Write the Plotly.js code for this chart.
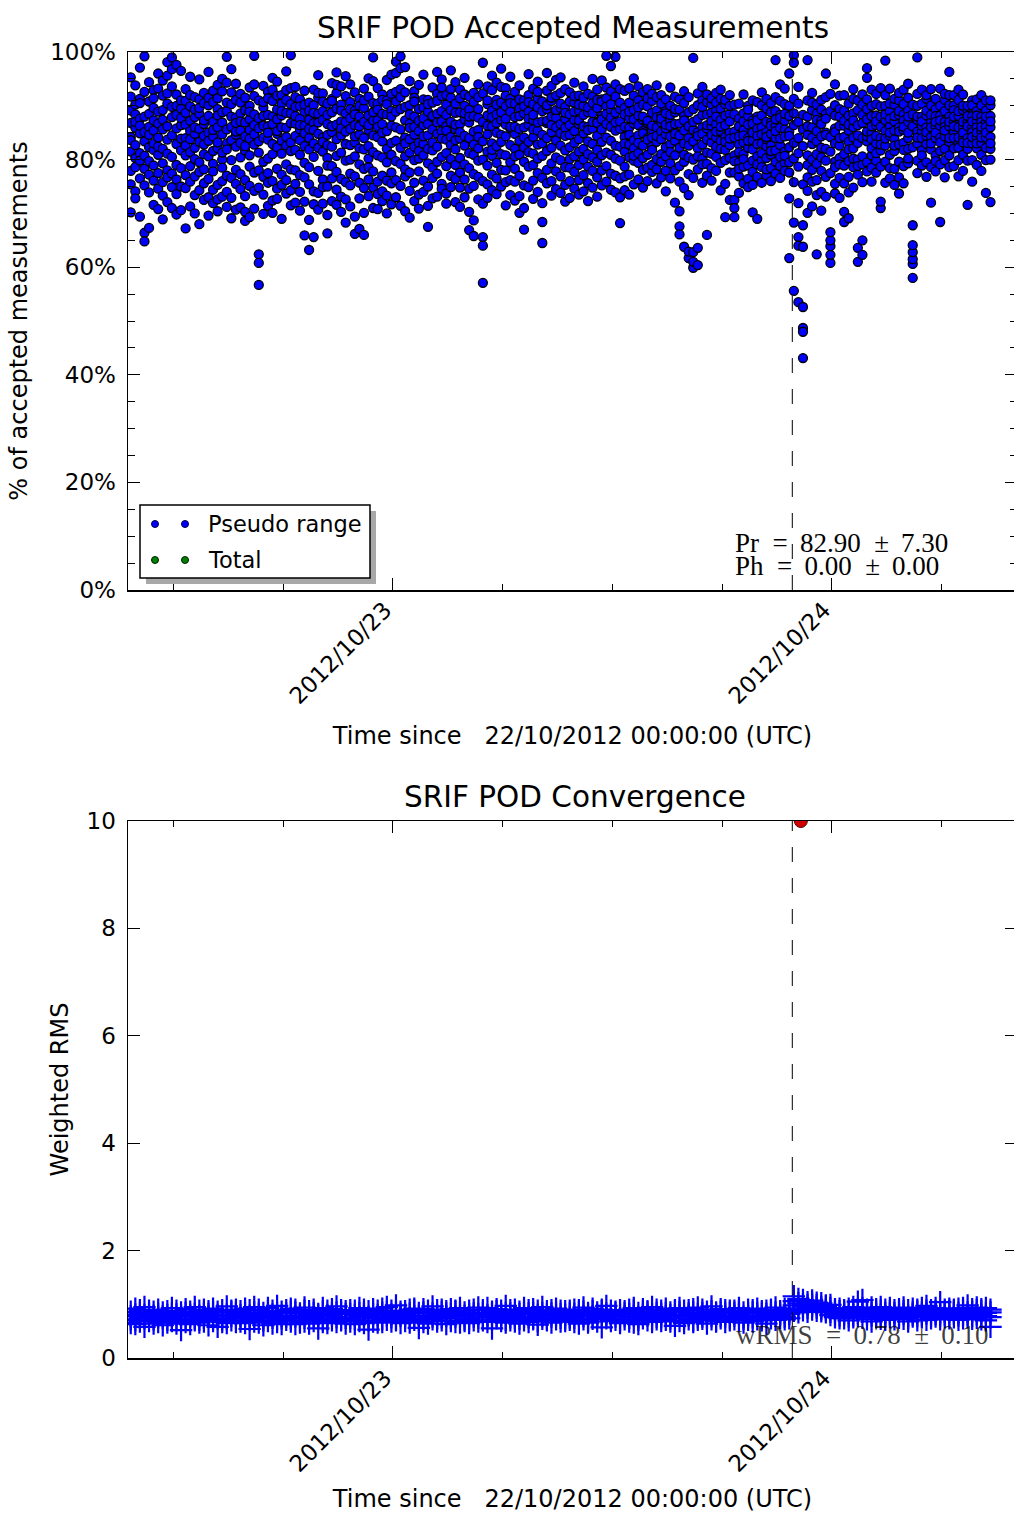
<!DOCTYPE html>
<html>
<head>
<meta charset="utf-8">
<script src="https://cdn.plot.ly/plotly-3.0.1.min.js"></script>
<style>html,body{margin:0;padding:0;overflow:hidden;background:#fff}</style>
</head>
<body>
<div id="chart" style="width:1020px;height:1524px"></div>
<script>
// ---------- DATA ----------
// epochs: every 15 min starting 2012-10-22 09:40 UTC, 12 epochs per 3-hour block
const startEpoch = '2012-10-22T09:40:00Z';
const epochMinutes = 15;
const epochsPerBlock = 12;

// % of accepted pseudo-range measurements, one row per epoch (several satellites)
const pr_b00 = [[95.3,89.1,91.7,84.2,86.8,81.5,77.9,75.4,70.2,83.6],[93.8,88.4,90.2,82.7,85.9,80.3,78.6,74.1,72.8,87.0],[97.1,91.3,87.6,84.9,81.2,86.3,76.5,79.8,69.4,90.5],[99.2,92.6,88.0,83.4,80.7,85.1,75.2,66.4,64.8,78.3],[94.4,90.8,86.1,82.3,84.6,79.7,73.9,77.2,67.3,88.5],[92.9,87.3,89.6,85.4,81.8,83.0,76.1,78.9,71.6,91.4],[96.0,88.9,93.2,80.9,84.1,86.7,74.6,77.5,70.8,82.4],[94.7,91.9,87.4,82.0,85.6,79.3,75.8,73.3,68.9,89.2],[98.1,90.4,92.3,86.2,83.7,81.1,78.0,76.7,72.1,95.6],[99.0,93.6,89.8,84.5,87.9,80.5,77.4,74.9,71.0,96.8],[97.6,92.1,88.3,85.8,82.9,79.0,76.3,73.6,69.8,90.0],[96.5,89.5,91.0,83.9,86.4,81.7,78.4,75.0,70.6,87.7]];
const pr_b01 = [[93.1,88.7,90.9,84.0,82.6,86.5,77.1,74.7,67.2,80.8],[95.4,89.9,87.2,85.3,81.4,83.8,78.8,75.9,71.3,92.0],[91.6,87.9,89.3,82.2,84.8,80.1,76.9,73.4,70.0,86.0],[94.9,91.2,88.5,83.3,85.7,79.5,74.3,77.7,68.0,89.6],[92.4,90.5,86.6,84.4,81.0,82.8,75.6,78.2,72.5,87.3],[96.3,88.1,90.1,85.0,83.5,80.6,76.4,73.0,69.6,91.5],[90.7,87.0,92.8,81.6,84.3,79.2,77.8,74.4,71.9,85.5],[93.9,89.4,91.4,86.0,82.1,83.2,75.3,72.6,70.4,88.2],[95.0,92.7,88.8,84.7,86.9,80.0,78.5,76.0,73.1,81.3],[99.1,94.3,89.0,85.6,83.0,81.9,77.0,74.0,71.2,90.6],[96.8,90.3,92.5,83.6,86.1,79.9,76.6,72.9,69.1,88.0],[94.1,91.1,87.8,84.6,82.4,85.2,75.5,78.1,70.7,86.8]];
const pr_b02 = [[92.2,88.6,90.6,83.1,85.4,80.4,77.3,74.5,71.1,87.1],[91.5,86.9,89.2,84.3,81.7,82.5,76.2,73.2,68.6,70.3],[93.4,90.0,87.5,85.5,80.8,83.9,78.7,75.1,69.3,88.9],[99.3,94.0,88.4,86.4,82.8,84.7,77.6,74.2,70.9,91.8],[91.0,87.7,85.8,81.3,83.4,78.0,74.8,62.4,60.8,56.7],[93.7,89.7,88.1,84.1,86.3,79.6,76.8,73.5,69.9,90.7],[92.6,91.4,86.2,83.7,85.0,80.2,77.5,75.7,71.4,88.3],[95.2,90.9,88.0,82.9,86.6,81.0,76.0,72.4,70.1,93.0],[94.5,89.3,91.9,84.8,82.3,85.3,78.3,74.6,72.7,87.5],[92.0,88.2,90.4,83.5,81.1,86.0,77.2,75.3,69.0,89.0],[96.4,92.9,88.7,85.9,82.6,84.2,79.1,76.2,73.7,91.1],[99.4,93.3,90.3,86.8,83.2,81.6,78.2,74.3,71.5,88.6]];
const pr_b03 = [[93.5,89.8,91.6,84.4,86.7,81.8,78.0,75.5,72.0,88.1],[91.2,87.6,89.9,83.6,80.9,85.6,77.1,74.0,70.5,86.4],[92.8,88.9,86.3,82.5,84.9,79.4,76.7,72.2,65.9,90.2],[90.6,87.4,89.1,81.9,84.0,78.6,75.4,68.8,63.2,85.7],[93.0,90.1,86.8,83.0,85.5,80.5,74.1,71.7,65.6,88.7],[95.7,91.5,88.5,84.8,82.2,86.9,77.9,73.8,70.7,92.4],[92.3,89.0,90.8,84.1,81.5,83.3,76.3,74.9,71.8,87.4],[90.4,86.6,88.3,82.7,80.3,84.6,75.0,69.7,66.3,78.9],[94.2,91.3,88.8,85.1,82.4,86.2,78.8,76.5,72.3,90.9],[96.2,92.4,89.5,86.5,83.8,80.7,77.7,74.4,71.6,93.9],[93.6,90.2,87.1,84.5,81.3,85.8,76.4,73.1,70.3,89.1],[95.5,91.8,88.6,85.2,82.9,79.8,68.3,75.8,72.6,87.0]];
const pr_b04 = [[94.0,90.7,87.7,85.7,82.7,80.0,77.4,75.2,71.3,89.4],[92.5,89.1,86.4,83.2,80.6,84.3,76.9,69.4,66.2,88.4],[91.3,88.0,90.0,82.1,84.7,79.1,75.7,72.8,67.1,86.2],[93.2,89.6,87.0,84.0,81.9,78.3,74.7,70.1,66.0,91.0],[95.1,91.7,88.2,85.5,82.5,86.4,78.6,76.3,73.2,80.2],[99.0,94.6,90.5,87.3,84.5,81.4,77.8,74.8,71.0,88.8],[93.3,90.4,87.3,84.2,86.1,80.8,75.9,73.6,70.8,89.3],[92.1,88.5,91.1,83.4,80.4,85.0,77.0,74.1,72.3,86.6],[94.8,91.0,88.4,85.3,82.0,79.5,76.1,73.3,70.0,90.3],[95.8,92.2,89.1,86.3,83.1,80.9,77.6,75.6,71.7,88.0],[98.2,96.1,92.6,88.9,86.0,83.5,79.7,76.2,73.0,90.8],[99.2,97.0,93.1,89.4,85.6,82.2,79.2,75.1,71.4,91.6]];
const pr_b05 = [[97.2,92.5,89.8,84.1,87.3,80.6,76.9,78.2,70.4,83.0],[94.6,90.1,86.7,85.9,81.3,83.8,74.2,77.6,69.2,88.4],[92.7,91.5,88.0,82.4,84.6,79.9,75.7,72.3,86.1,90.8],[93.9,87.2,89.4,83.1,80.2,85.3,77.8,73.5,70.9,81.6],[95.8,89.7,91.2,86.4,82.9,80.8,76.1,74.0,87.7,84.3],[91.1,88.9,84.5,82.0,79.3,86.6,75.0,71.4,67.5,90.3],[93.4,90.6,87.9,85.6,81.7,78.5,76.6,72.8,83.2,88.1],[96.3,92.2,88.5,84.8,82.4,79.6,77.4,73.1,86.9,90.9],[94.9,91.8,87.1,85.3,80.5,83.9,75.5,74.6,89.0,93.4],[92.0,88.3,86.2,83.7,78.8,81.2,73.7,71.8,85.4,90.2],[96.6,93.1,89.2,87.0,84.2,80.1,77.0,74.9,82.7,91.5],[94.4,90.4,88.7,85.7,81.9,79.0,76.4,72.1,86.5,83.6]];
const pr_b06 = [[93.0,88.8,91.4,83.9,86.6,80.3,77.6,74.8,71.2,85.1],[95.2,90.0,87.5,82.6,84.4,79.1,76.3,73.0,88.6,92.1],[91.7,89.3,86.9,84.0,81.2,78.4,74.6,70.3,66.9,88.0],[92.4,88.1,90.7,82.8,85.2,77.3,75.1,68.7,65.8,80.9],[94.0,91.6,87.8,85.5,82.1,79.8,76.8,72.6,89.4,84.2],[98.0,92.3,87.0,83.4,80.0,76.0,71.8,65.6,64.0,57.1],[93.6,90.3,88.2,84.7,81.5,78.9,75.4,72.9,86.3,91.0],[95.6,92.9,89.1,86.2,83.0,80.7,77.2,74.3,87.9,81.8],[94.3,91.1,88.4,85.0,82.5,79.4,76.5,73.6,90.2,86.8],[96.9,93.5,90.6,87.4,84.6,81.0,78.1,75.0,88.8,83.3],[93.3,89.9,86.5,84.3,80.8,78.0,75.8,71.5,87.6,91.9],[95.4,91.3,88.9,85.8,82.7,79.5,76.2,73.4,86.1,90.5]];
const pr_b07 = [[92.6,87.9,90.4,84.8,82.0,86.1,78.3,75.9,72.4,80.6],[93.8,89.5,88.1,83.5,85.7,80.9,77.0,73.2,70.1,91.2],[91.0,88.6,86.0,82.3,84.1,79.6,75.2,71.0,67.0,89.9],[95.9,92.0,88.9,86.5,83.3,81.4,78.7,74.9,87.6,90.7],[93.2,90.3,87.3,84.2,81.1,79.0,76.1,72.7,85.6,88.3],[94.5,91.4,89.7,85.4,82.8,80.2,77.5,74.0,86.9,92.6],[90.8,87.1,89.0,83.0,80.7,84.6,76.6,71.9,68.4,64.5],[96.1,92.8,89.4,86.8,84.0,81.6,78.1,75.6,87.2,90.1],[93.7,90.9,88.0,85.1,82.2,79.3,76.0,73.3,86.4,91.5],[94.8,91.9,88.8,86.0,83.6,80.4,77.8,74.5,87.8,89.2],[95.3,92.4,89.6,84.9,82.6,79.9,76.9,73.8,86.6,90.4],[93.1,89.8,87.6,85.9,81.7,78.6,75.3,72.2,84.4,88.7]];
const pr_b08 = [[92.5,88.4,90.8,84.6,82.3,86.4,78.5,76.0,72.9,80.1],[94.3,90.6,87.4,85.3,83.1,80.6,77.7,74.6,88.9,91.8],[91.9,89.1,86.6,83.8,81.5,79.0,76.2,73.5,87.3,90.2],[93.6,90.0,88.3,84.9,82.0,80.0,77.1,74.1,86.2,91.5],[92.2,88.8,86.1,83.4,81.0,78.7,75.6,72.3,85.5,89.7],[95.0,91.7,88.6,85.8,82.9,80.4,77.9,74.8,87.0,90.5],[93.0,89.6,87.0,84.4,81.8,79.6,76.7,73.1,86.8,91.1],[94.7,91.2,88.1,85.6,83.3,80.8,78.0,75.2,87.5,90.8],[99.3,93.4,89.9,86.6,84.1,81.3,78.8,75.9,88.5,91.4],[97.4,92.7,89.2,86.1,83.5,80.9,77.4,74.4,87.8,90.3],[94.0,99.1,88.7,85.4,82.6,80.2,77.0,73.9,86.9,91.7],[68.2,93.1,89.4,85.7,82.4,79.8,76.5,73.0,87.1,90.6]];
const pr_b09 = [[89.6,84.2,92.8,78.7,86.1,81.5,74.3,88.4,83.0,76.9],[93.3,87.7,80.4,85.9,77.2,90.6,82.8,73.5,88.9,84.6],[95.1,83.6,89.2,86.7,79.8,91.9,75.4,82.1,87.5,80.7],[86.4,91.0,81.2,88.2,84.5,76.3,89.7,79.4,93.6,83.1],[90.2,85.3,78.1,92.5,82.6,87.4,74.8,88.0,80.3,84.9],[84.0,89.9,86.8,80.9,93.1,78.5,83.7,91.4,76.0,87.2],[88.7,82.4,90.9,85.6,77.7,84.1,92.2,79.0,86.3,81.8],[91.6,86.0,83.3,89.1,80.1,75.6,87.9,84.4,93.8,78.2],[85.2,92.0,88.1,81.0,86.9,83.8,76.7,90.4,79.6,87.6],[89.0,84.7,80.6,91.2,85.8,77.9,88.6,82.3,74.1,86.5],[87.1,93.4,82.9,86.2,79.3,90.0,84.3,76.5,88.3,81.4],[83.5,88.8,91.7,85.1,78.0,86.6,80.8,89.4,72.0,84.8]];
const pr_b10 = [[70.4,67.6,66.1,84.5,89.3,78.8,86.7,91.2,82.2,75.9],[63.8,88.1,83.0,79.6,90.5,85.4,74.7,87.3,80.9,92.7],[61.7,62.9,86.2,80.4,91.6,84.0,77.3,88.8,82.6,73.4],[98.9,59.9,61.0,62.8,85.5,80.0,89.4,83.4,76.6,87.0],[63.6,60.4,87.5,82.1,90.1,78.2,85.1,92.3,80.6,84.4],[86.0,80.2,91.0,84.8,88.3,75.7,82.8,89.8,93.5,79.1],[66.0,88.4,83.7,79.2,90.7,85.8,77.0,86.4,81.3,92.1],[83.2,90.2,86.3,81.1,88.7,78.4,84.6,91.4,76.1,87.2],[89.1,84.1,80.5,92.4,86.6,82.4,90.6,77.9,85.2,88.0],[85.3,91.3,87.4,83.5,79.4,89.5,82.0,86.1,74.3,93.0],[69.3,86.4,81.8,90.3,84.2,79.9,88.2,75.5,91.1,83.3],[88.5,82.7,92.0,85.0,80.3,87.1,83.9,77.6,90.0,72.5]];
const pr_b11 = [[72.5,71.0,69.3,85.2,80.8,88.4,77.6,84.1,90.2,79.7],[84.3,79.5,87.6,76.9,90.4,82.8,78.3,86.2,81.4,73.8],[81.0,88.6,83.2,78.7,85.5,92.1,75.6,87.1,80.1,84.5],[86.5,78.9,84.0,90.0,82.2,76.4,88.1,83.5,74.9,89.3],[70.2,83.6,87.3,79.8,85.0,77.7,91.0,81.9,86.7,75.3],[69.0,85.7,80.6,88.0,79.1,84.4,90.7,76.8,82.9,87.4],[83.0,88.2,79.9,86.0,92.5,78.6,84.7,81.2,75.7,90.1],[80.3,85.1,89.5,82.5,77.1,87.0,83.8,91.3,78.2,84.2],[86.9,80.9,84.8,78.4,90.5,82.6,86.3,76.0,88.8,81.6],[98.5,86.2,81.7,89.0,84.0,79.6,87.5,77.4,85.3,91.6],[94.0,82.7,88.3,80.5,85.9,90.9,78.8,83.9,76.6,87.8],[85.6,90.3,81.5,87.2,79.4,93.2,84.3,77.9,88.5,80.7]];
const pr_b12 = [[61.7,96.0,88.1,82.3,77.6,85.2,72.8,90.0,79.5,84.4],[99.4,98.0,55.6,68.3,86.4,80.2,91.3,75.8,83.1,88.6],[53.5,65.6,64.0,84.0,78.7,90.4,71.9,87.0,81.2,93.5],[52.6,48.7,48.0,43.1,63.8,67.8,82.5,88.3,75.4,85.6],[98.5,84.6,70.1,79.0,88.0,74.2,91.0,80.8,86.2,76.7],[82.9,89.2,75.9,92.4,80.0,71.3,86.0,78.1,90.6,84.1],[62.4,85.3,79.2,88.6,73.4,83.4,90.2,76.2,87.4,81.0],[80.4,87.2,74.0,91.1,84.3,77.9,86.6,70.5,89.3,82.2],[96.0,82.0,88.5,76.8,85.0,91.6,73.1,84.6,79.8,87.6],[60.8,62.3,63.9,65.0,66.5,84.2,89.0,77.5,92.2,81.5],[85.8,79.6,90.1,75.5,83.0,88.2,78.6,94.0,73.7,85.1],[82.6,89.4,76.6,86.3,91.9,80.3,84.0,72.9,88.0,79.1]];
const pr_b13 = [[70.3,68.4,84.2,89.1,78.9,86.3,92.0,81.0,75.6,87.2],[69.1,85.4,79.7,90.4,83.3,76.8,88.2,73.9,86.5,81.9],[84.1,91.3,78.6,86.0,82.1,88.6,74.8,93.1,80.2,87.3],[61.0,63.6,86.4,80.0,89.2,83.1,77.2,91.0,84.5,78.8],[62.3,65.0,88.3,84.0,79.1,92.1,80.6,86.8,75.8,90.2],[97.0,95.2,83.4,87.5,79.5,89.4,84.3,77.8,91.2,85.2],[85.0,90.0,80.8,88.1,83.8,78.5,93.0,86.2,75.9,82.1],[88.2,83.0,92.2,79.8,86.4,90.3,77.6,84.4,87.1,81.2],[71.0,72.2,86.1,81.7,89.9,84.0,78.7,88.0,82.8,93.3],[98.4,87.3,82.6,90.0,85.3,79.6,88.4,75.7,92.0,83.9],[84.4,89.0,86.2,80.9,93.2,87.6,78.4,85.0,90.4,76.5],[90.2,81.6,87.1,83.8,78.3,91.3,85.4,88.1,75.3,82.6]];
const pr_b14 = [[86.0,91.0,79.6,88.3,82.8,92.4,76.7,85.2,89.0,73.7],[83.1,88.4,85.5,93.0,78.8,87.3,81.8,90.3,75.6,86.1],[89.1,84.0,91.5,82.0,87.0,79.3,94.1,85.0,88.0,80.2],[58.0,60.6,61.5,62.8,64.1,67.8,86.2,90.2,82.3,88.4],[99.0,87.4,83.0,90.0,85.2,79.8,92.2,84.1,77.5,88.0],[85.3,90.4,88.0,81.7,86.3,93.0,78.9,87.1,84.0,80.8],[88.2,82.9,91.3,86.0,79.5,89.1,84.4,92.0,76.8,85.1],[72.0,87.0,84.2,90.1,81.9,88.3,78.6,86.0,93.1,83.0],[84.0,89.4,86.2,80.8,91.3,85.0,88.1,79.7,87.0,77.8],[68.4,86.3,90.0,84.1,88.2,81.6,93.2,79.1,87.3,83.2],[87.0,84.3,91.1,86.1,79.9,89.0,85.4,92.2,82.0,76.7],[96.3,88.0,83.3,90.1,86.2,80.8,87.0,84.0,92.0,78.6]];
const pr_b15 = [[85.2,90.1,87.0,82.1,89.2,84.0,92.0,78.8,86.2,88.0],[88.1,83.0,91.1,86.0,79.9,89.0,84.1,93.0,82.2,76.9],[84.0,89.2,86.1,90.0,83.2,87.0,80.9,92.1,77.9,85.0],[71.6,87.1,84.0,89.1,82.0,90.0,86.2,79.8,88.1,83.1],[86.0,91.0,83.0,88.1,85.1,79.9,90.1,84.2,87.1,75.9],[89.0,84.2,87.1,82.1,91.2,86.0,79.0,88.2,83.0,85.0],[83.1,88.0,90.1,85.2,80.9,87.0,92.0,84.1,77.9,86.1],[87.0,82.2,86.1,91.0,84.1,89.1,79.9,85.0,88.0,73.8],[72.1,86.0,90.1,84.2,88.1,82.0,87.1,80.0,91.0,83.0]];

// weighted RMS, 4 values per epoch
const w_b00 = [.78,.65,.86,.72,.81,.70,.92,.63,.75,.84,.68,.89,.80,.58,.74,.95,.83,.69,.77,.88,.72,.86,.64,.79,.90,.76,.67,.82,.74,.85,.61,.78,.87,.71,.80,.66,.76,.93,.69,.83,.81,.64,.88,.73,.79,.70,.85,.52];
const w_b01 = [.84,.72,.67,.91,.77,.86,.63,.80,.70,.82,.95,.74,.88,.66,.79,.71,.75,.90,.68,.83,.82,.61,.77,.87,.69,.85,.73,.92,.86,.74,.58,.80,.78,.89,.67,.72,.73,.81,.96,.65,.85,.70,.78,.88,.67,.83,.75,.90];
const w_b02 = [.80,.68,.87,.74,.76,.92,.65,.83,.89,.71,.79,.54,.73,.85,.68,.95,.82,.66,.90,.77,.70,.84,.75,.61,.87,.78,.69,.93,.75,.88,.64,.81,.84,.72,.97,.67,.79,.63,.86,.74,.71,.89,.77,.83,.86,.68,.74,.92];
const w_b03 = [.77,.85,.63,.90,.83,.70,.79,.66,.68,.88,.75,.94,.81,.64,.87,.73,.90,.76,.69,.84,.74,.82,.55,.79,.86,.71,.93,.67,.72,.80,.88,.65,.79,.91,.70,.83,.85,.67,.76,.96,.70,.84,.73,.89,.82,.75,.64,.87];
const w_b04 = [.75,.89,.68,.82,.88,.72,.80,.63,.69,.84,.93,.76,.83,.65,.78,.90,.77,.87,.70,.53,.91,.74,.82,.68,.80,.66,.88,.75,.73,.92,.67,.84,.86,.79,.71,.95,.68,.81,.76,.88,.84,.70,.98,.73,.78,.86,.65,.82];
const w_b05 = [.81,.69,.87,.76,.74,.90,.66,.83,.88,.78,.71,.92,.70,.84,.56,.79,.85,.73,.91,.67,.79,.88,.75,.64,.72,.83,.96,.77,.89,.68,.80,.74,.76,.85,.70,.90,.83,.63,.87,.78,.69,.91,.74,.82,.86,.77,.67,.88];
const w_b06 = [.78,.66,.84,.93,.85,.72,.79,.69,.73,.88,.65,.81,.90,.77,.83,.70,.68,.82,.75,.94,.84,.70,.89,.76,.77,.93,.67,.80,.82,.71,.86,.55,.74,.87,.78,.91,.88,.69,.81,.75,.71,.84,.97,.66,.83,.76,.70,.89];
const w_b07 = [.79,.90,.68,.74,.86,.73,.82,.64,.70,.85,.77,.93,.83,.67,.89,.76,.75,.91,.72,.84,.88,.69,.80,.62,.73,.84,.95,.78,.81,.70,.87,.74,.77,.89,.66,.83,.85,.72,.79,.92,.68,.82,.75,.88,.87,.74,.69,.80];
const w_b08 = [.76,.88,.71,.83,.82,.67,.90,.75,.89,.79,.64,.85,.72,.86,.78,.94,.84,.70,.81,.66,.78,.92,.73,.87,.80,.68,.85,.76,.87,.75,.57,.90,.74,.83,.79,.97,.81,.69,.88,.73,.86,.77,.71,.84,.70,.89,.80,.65];
const w_b09 = [.83,.72,.87,.78,.75,.90,.68,.82,.88,.66,.79,.93,.71,.84,.76,.63,.86,.74,.91,.80,.79,.87,.70,.85,.73,.81,.95,.67,.90,.77,.84,.72,.76,.88,.69,.82,.84,.71,.78,.92,.68,.85,.80,.74,.87,.79,.60,.89];
const w_b10 = [.80,.69,.86,.93,.74,.88,.77,.65,.89,.72,.83,.79,.70,.85,.67,.91,.82,.76,.94,.71,.77,.90,.73,.84,.86,.64,.80,.75,.72,.87,.78,.96,.85,.70,.82,.68,.78,.91,.74,.86,.83,.67,.89,.77,.75,.84,.70,.88];
const w_b11 = [.79,.88,.72,.84,.86,.70,.81,.93,.73,.85,.77,.66,.90,.78,.83,.71,.76,.89,.68,.85,.84,.72,.92,.79,.70,.83,.87,.75,.88,.77,.64,.82,.74,.90,.80,.86,.85,.71,.78,.94,.80,.87,.75,.83,.77,.92,.84,.72];
const w_b12 = [.82,.74,.90,.86,1.15,.98,1.06,.88,1.02,.92,1.10,.85,.96,1.08,.89,1.00,.93,1.04,.86,.99,1.01,.90,.97,1.07,.88,.99,.94,1.03,.95,.87,1.02,.91,.90,.98,.85,.96,.86,.93,.80,.99,.83,.91,.76,.88,.79,.87,.92,.74];
const w_b13 = [.81,.89,.74,.86,.77,.92,.84,.70,.88,.80,.95,.76,1.05,.84,.78,.91,1.08,.86,.93,.75,.82,.90,.72,.87,.79,.94,.85,.68,.86,.76,.91,.81,.73,.88,.80,.95,.90,.78,.84,.71,.76,.87,.93,.82,.84,.72,.89,.79];
const w_b14 = [.80,.91,.75,.86,.87,.73,.82,.94,.74,.89,.79,.68,.92,.81,.85,.77,.78,.86,.70,.90,.85,.76,.93,.80,.71,.88,.83,.97,.89,.79,.74,.84,.82,.93,.77,.87,1.04,.85,.80,.72,.76,.90,.86,.81,.88,.74,.92,.79];
const w_b15 = [.83,.76,.90,.87,.79,.92,.84,.71,.88,.81,.74,.93,.76,.98,.85,.80,.91,.78,.86,.73,.82,.89,.75,.94,.87,.72,.91,.80,.78,.93,.84,.70,.85,.58,.90,.76];

// non-converged solution flagged at the upper limit
const outlierTime = ['2012-10-23 22:18:00'];
const outlierValue = [10];
// event marker (vertical dashed line)
const eventTime = '2012-10-23 21:50:00';

const xTickFormat = '%Y/%m/%d';
const xTitle = 'Time since\u00a0\u00a0\u00a022/10/2012 00:00:00 (UTC)';
const legendLabels = ['Pseudo range', 'Total'];
const prStatsText = 'Pr\u00a0\u00a0=\u00a0\u200982.90\u00a0\u00a0±\u00a0\u20097.30';
const phStatsText = 'Ph\u00a0\u00a0=\u00a0\u20090.00\u00a0\u00a0±\u00a0\u20090.00';
const wrmsStatsText = 'wRMS\u00a0\u00a0=\u00a0\u20090.78\u00a0\u00a0±\u00a0\u20090.10';

// ---------- BUILD ----------
const t0 = Date.parse(startEpoch);
const stepMs = epochMinutes * 60000;
function fmt(ms){ return new Date(ms).toISOString().slice(0,19).replace('T',' '); }

const prBlocks = [pr_b00,pr_b01,pr_b02,pr_b03,pr_b04,pr_b05,pr_b06,pr_b07,pr_b08,pr_b09,pr_b10,pr_b11,pr_b12,pr_b13,pr_b14,pr_b15];
const wBlocks = [w_b00,w_b01,w_b02,w_b03,w_b04,w_b05,w_b06,w_b07,w_b08,w_b09,w_b10,w_b11,w_b12,w_b13,w_b14,w_b15];

const prX = [], prY = [];
prBlocks.forEach((blk,b)=>blk.forEach((row,r)=>{
  const t = fmt(t0 + (b*epochsPerBlock + r)*stepMs);
  row.forEach(v=>{prX.push(t); prY.push(v);});
}));
const wX = [], wY = [];
wBlocks.forEach((blk,b)=>blk.forEach((v,j)=>{
  wX.push(fmt(t0 + (b*epochsPerBlock + Math.floor(j/4))*stepMs));
  wY.push(v);
}));

const W = 1020, H = 1524;
const px = v => v / W;
const py = v => 1 - v / H;
const FONT = 'DejaVu Sans';

const traces = [
  {type:'scatter', mode:'markers', name:legendLabels[0], x:prX, y:prY, xaxis:'x', yaxis:'y',
   marker:{size:9, color:'#0000ff', line:{color:'#000000', width:1.3}}, showlegend:false, hoverinfo:'skip'},
  {type:'scatter', mode:'markers', name:'wRMS', x:wX, y:wY, xaxis:'x2', yaxis:'y2',
   marker:{symbol:'cross-thin', size:16, color:'#0000ff', line:{color:'#0000ff', width:2.2}}, showlegend:false, hoverinfo:'skip'},
  {type:'scatter', mode:'markers', name:'not converged', x:outlierTime, y:outlierValue, xaxis:'x2', yaxis:'y2',
   marker:{symbol:'circle', size:13, color:'#d00000', line:{color:'#500000', width:1}}, showlegend:false, hoverinfo:'skip'}
];

const xRange = ['2012-10-22 09:31:00', '2012-10-24 10:07:00'];
function xAxis(anchor, titleStandoff){
  return {
    type:'date', domain:[px(128), px(1017)], anchor:anchor, range:xRange,
    tick0:'2012-10-23', dtick:86400000, tickformat:xTickFormat, tickangle:-45,
    ticks:'inside', ticklen:12, tickwidth:1, tickcolor:'#000', ticklabelstandoff:-4, ticklabelshift:-8,
    minor:{dtick:21600000, tick0:'2012-10-23', ticks:'inside', ticklen:6, tickwidth:1, tickcolor:'#000', showgrid:false},
    showline:true, linecolor:'#000', linewidth:1.5, mirror:'allticks',
    showgrid:false, zeroline:false, automargin:false,
    tickfont:{family:FONT, size:23, color:'#000'},
    title:{text:xTitle, font:{family:FONT, size:24, color:'#000'}, standoff:titleStandoff}
  };
}
function yAxis(anchor, dom, range, dtick, suffix, minorDtick){
  const a = {
    domain:dom, anchor:anchor, range:range, dtick:dtick, tick0:0, ticksuffix:suffix,
    ticks:'inside', ticklen:12, tickwidth:1, tickcolor:'#000', ticklabelstandoff:6,
    showline:true, linecolor:'#000', linewidth:1.5, mirror:'allticks',
    showgrid:false, zeroline:false, automargin:false,
    tickfont:{family:FONT, size:23, color:'#000'}
  };
  if (minorDtick) a.minor = {dtick:minorDtick, ticks:'inside', ticklen:7, tickwidth:1, tickcolor:'#000', showgrid:false};
  return a;
}

const layout = {
  width:W, height:H, margin:{l:0,r:0,t:0,b:0},
  paper_bgcolor:'#fff', plot_bgcolor:'#fff', showlegend:false,
  title:{text:'SRIF POD Accepted Measurements', x:573/W, xanchor:'center', y:1-28/H, yanchor:'middle', yref:'container',
         font:{family:FONT, size:29.5, color:'#000'}},
  xaxis: xAxis('y', 19),
  yaxis: Object.assign(yAxis('x', [py(590), py(52)], [0,100], 20, '%', 5),
          {title:{text:'% of accepted measurements', font:{family:FONT, size:24, color:'#000'}, standoff:15}}),
  xaxis2: xAxis('y2', 14),
  yaxis2: Object.assign(yAxis('x2', [py(1358), py(821)], [0,10], 2, '', 0),
          {title:{text:'Weighted RMS', font:{family:FONT, size:24, color:'#000'}, standoff:11}}),
  shapes:[
    {type:'line', xref:'x', yref:'y domain', x0:eventTime, x1:eventTime, y0:0, y1:1, layer:'above',
     line:{color:'#000', width:1, dash:'15px,16px'}},
    {type:'line', xref:'x2', yref:'y2 domain', x0:eventTime, x1:eventTime, y0:0, y1:1, layer:'above',
     line:{color:'#000', width:1, dash:'15px,16px'}},
    // legend shadow + frame
    {type:'rect', xref:'paper', yref:'paper', x0:px(146), x1:px(376), y0:py(584), y1:py(511),
     fillcolor:'#a8a8a8', line:{width:0}},
    {type:'rect', xref:'paper', yref:'paper', x0:px(140), x1:px(370), y0:py(578), y1:py(505),
     fillcolor:'#fff', line:{color:'#000', width:1.5}},
    // legend glyphs
    {type:'circle', xref:'paper', yref:'paper', x0:px(151.5), x1:px(158.5), y0:py(527.5), y1:py(520.5), fillcolor:'#0000ff', line:{color:'#000040', width:1}},
    {type:'circle', xref:'paper', yref:'paper', x0:px(181.5), x1:px(188.5), y0:py(527.5), y1:py(520.5), fillcolor:'#0000ff', line:{color:'#000040', width:1}},
    {type:'circle', xref:'paper', yref:'paper', x0:px(151.5), x1:px(158.5), y0:py(563.5), y1:py(556.5), fillcolor:'#008000', line:{color:'#002000', width:1}},
    {type:'circle', xref:'paper', yref:'paper', x0:px(181.5), x1:px(188.5), y0:py(563.5), y1:py(556.5), fillcolor:'#008000', line:{color:'#002000', width:1}}
  ],
  annotations:[
    {xref:'paper', yref:'paper', x:575/W, y:py(797), xanchor:'center', yanchor:'middle', showarrow:false,
     text:'SRIF POD Convergence', font:{family:FONT, size:29.5, color:'#000'}},
    {xref:'paper', yref:'paper', x:px(206), y:py(524), xanchor:'left', yanchor:'middle', showarrow:false,
     text:legendLabels[0], font:{family:FONT, size:22.5, color:'#000'}},
    {xref:'paper', yref:'paper', x:px(206), y:py(560), xanchor:'left', yanchor:'middle', showarrow:false,
     text:legendLabels[1], font:{family:FONT, size:22.5, color:'#000'}},
    {xref:'paper', yref:'paper', x:px(733), y:py(543), xanchor:'left', yanchor:'middle', showarrow:false, height:22,
     text:prStatsText, font:{family:'Liberation Serif', size:27, color:'#000'}},
    {xref:'paper', yref:'paper', x:px(733), y:py(566), xanchor:'left', yanchor:'middle', showarrow:false, height:22,
     text:phStatsText, font:{family:'Liberation Serif', size:27, color:'#000'}},
    {xref:'paper', yref:'paper', x:px(734), y:py(1335), xanchor:'left', yanchor:'middle', showarrow:false,
     text:wrmsStatsText, font:{family:'Liberation Serif', size:27, color:'rgba(0,0,0,0.75)'}}
  ]
};

Plotly.newPlot('chart', traces, layout, {displayModeBar:false, staticPlot:true});
</script>
</body>
</html>
